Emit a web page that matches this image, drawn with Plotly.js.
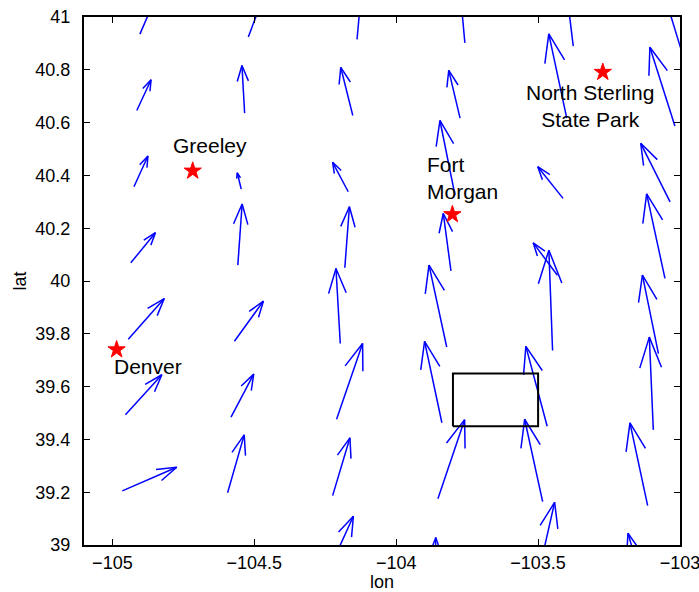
<!DOCTYPE html>
<html>
<head>
<meta charset="utf-8">
<script src="https://cdn.plot.ly/plotly-3.0.1.min.js"></script>
<style>html,body{margin:0;padding:0;background:#fff;}#chart{width:699px;height:592px;}</style>
</head>
<body>
<div id="chart"></div>
<script>
// Quiver tails (lon, lat) and vector components (deg), read column by column
const tailLon = [
  -104.903, -104.914, -104.924, -104.935, -104.944, -104.954, -104.965,
  -104.521, -104.534, -104.546, -104.558, -104.570, -104.582, -104.594,
  -104.138, -104.153, -104.169, -104.181, -104.197, -104.210, -104.224, -104.240,
  -103.758, -103.775, -103.793, -103.807, -103.822, -103.839, -103.853, -103.863,
  -103.376, -103.399, -103.412, -103.432, -103.449, -103.468, -103.484, -103.502,
  -102.996, -103.018, -103.035, -103.053, -103.076, -103.094, -103.114, -103.134
];
const tailLat = [
  40.935, 40.646, 40.357, 40.069, 39.779, 39.493, 39.205,
  40.924, 40.636, 40.348, 40.060, 39.772, 39.484, 39.198,
  40.915, 40.627, 40.338, 40.050, 39.763, 39.476, 39.187, 38.899,
  40.902, 40.617, 40.326, 40.038, 39.750, 39.463, 39.175, 38.887,
  40.890, 40.617, 40.313, 40.022, 39.737, 39.450, 39.164, 38.876,
  40.876, 40.587, 40.300, 40.010, 39.725, 39.436, 39.149, 38.861
];
const uComp = [
  0.0515, 0.0504, 0.0493, 0.0867, 0.1269, 0.1283, 0.1917,
  0.0520, -0.0095, -0.0141, 0.0152, 0.1022, 0.0800, 0.0585,
  0.0159, -0.0423, -0.0550, 0.0162, -0.0152, 0.0916, 0.0610, 0.0892,
  -0.0176, -0.0398, -0.0529, -0.0271, -0.0624, -0.0610, 0.0941, 0.0025,
  -0.0264, -0.0634, -0.0892, -0.0853, -0.0130, -0.0751, -0.0634, 0.0603,
  -0.0634, -0.0881, -0.1033, -0.0645, -0.0564, -0.0141, -0.0624, -0.0493
];
const vComp = [
  0.1290, 0.1165, 0.1165, 0.1139, 0.1545, 0.1518, 0.0896,
  0.1500, 0.1806, 0.0619, 0.2315, 0.1518, 0.1632, 0.2190,
  0.1900, 0.1822, 0.1116, 0.2315, 0.2846, 0.2873, 0.2190, 0.2099,
  0.2087, 0.1806, 0.2820, 0.2178, 0.3100, 0.3085, 0.2998, 0.1416,
  0.2277, 0.3188, 0.1199, 0.1226, 0.3795, 0.3025, 0.3123, 0.2858,
  0.2240, 0.2987, 0.2216, 0.3199, 0.2971, 0.3514, 0.3138, 0.1833
];

// Towns
const townNames = ["Denver", "Greeley", "Fort Morgan", "North Sterling State Park"];
const townLon = [-104.985, -104.717, -103.802, -103.272];
const townLat = [39.740, 40.417, 40.252, 40.791];

// Town labels
const labelText = ["Denver", "Greeley", "Fort<br>Morgan", "North Sterling<br>State Park"];
const labelLon = [-105.003, -104.793, -103.900, -103.317];
const labelLat = [39.677, 40.513, 40.390, 40.662];
const labelAlign = ["left", "left", "left", "center"];

// Box
const boxLon = [-103.8, -103.5, -103.5, -103.8, -103.8];
const boxLat = [39.45, 39.45, 39.65, 39.65, 39.45];

// Axis ticks
const xTicks = [-105, -104.5, -104, -103.5, -103];
const yTicks = [39, 39.2, 39.4, 39.6, 39.8, 40, 40.2, 40.4, 40.6, 40.8, 41];

// Build quiver segments (MATLAB-style arrow heads)
const alpha = 0.33, beta = 0.33;
const qx = [], qy = [];
for (let i = 0; i < tailLon.length; i++) {
  const x = tailLon[i], y = tailLat[i], u = uComp[i], v = vComp[i];
  const hx = x + u, hy = y + v;
  qx.push(x, hx, null);
  qy.push(y, hy, null);
  qx.push(hx - alpha * (u + beta * v), hx, hx - alpha * (u - beta * v), null);
  qy.push(hy - alpha * (v - beta * u), hy, hy - alpha * (v + beta * u), null);
}

const FONT = "Liberation Sans, Arial, Helvetica, sans-serif";

const traces = [
  {x: qx, y: qy, type: "scatter", mode: "lines",
   line: {color: "#0000ff", width: 1.5}, hoverinfo: "skip", showlegend: false},
  {x: boxLon, y: boxLat, type: "scatter", mode: "lines",
   line: {color: "#000000", width: 2}, hoverinfo: "skip", showlegend: false},
  {x: townLon, y: townLat, text: townNames, type: "scatter", mode: "markers",
   marker: {symbol: "star", size: 13, color: "#ff0000", line: {color: "#ff0000", width: 1}},
   showlegend: false}
];

const annotations = labelText.map((t, i) => ({
  x: labelLon[i], y: labelLat[i], xref: "x", yref: "y", text: t,
  showarrow: false, xanchor: labelAlign[i], yanchor: "middle", align: labelAlign[i],
  font: {family: FONT, size: 21, color: "#000"}
}));

const axisCommon = {
  showgrid: false, zeroline: false, showline: true, linecolor: "#000", linewidth: 2,
  mirror: "ticks", ticks: "inside", ticklen: 6, tickwidth: 1, tickcolor: "#000",
  ticklabeloverflow: "allow",
  tickfont: {family: FONT, size: 18, color: "#000"}
};

const layout = {
  width: 699, height: 592,
  margin: {l: 84, r: 19, t: 17, b: 47},
  paper_bgcolor: "#fff", plot_bgcolor: "#fff",
  font: {family: FONT, color: "#000"},
  xaxis: Object.assign({}, axisCommon, {
    range: [-105.1, -103], tickvals: xTicks, ticktext: xTicks.map(v => (v < 0 ? "\u2212" : "") + Math.abs(v)),
    ticklabelstandoff: 0,
    title: {text: "lon", font: {family: FONT, size: 18, color: "#000"}, standoff: 4}
  }),
  yaxis: Object.assign({}, axisCommon, {
    range: [39, 41], tickvals: yTicks, ticktext: yTicks.map(v => String(v)),
    ticklabelstandoff: 8,
    title: {text: "lat", font: {family: FONT, size: 18, color: "#000"}, standoff: 4}
  }),
  annotations: annotations,
  showlegend: false
};

Plotly.newPlot("chart", traces, layout, {staticPlot: true, displayModeBar: false});
</script>
</body>
</html>
